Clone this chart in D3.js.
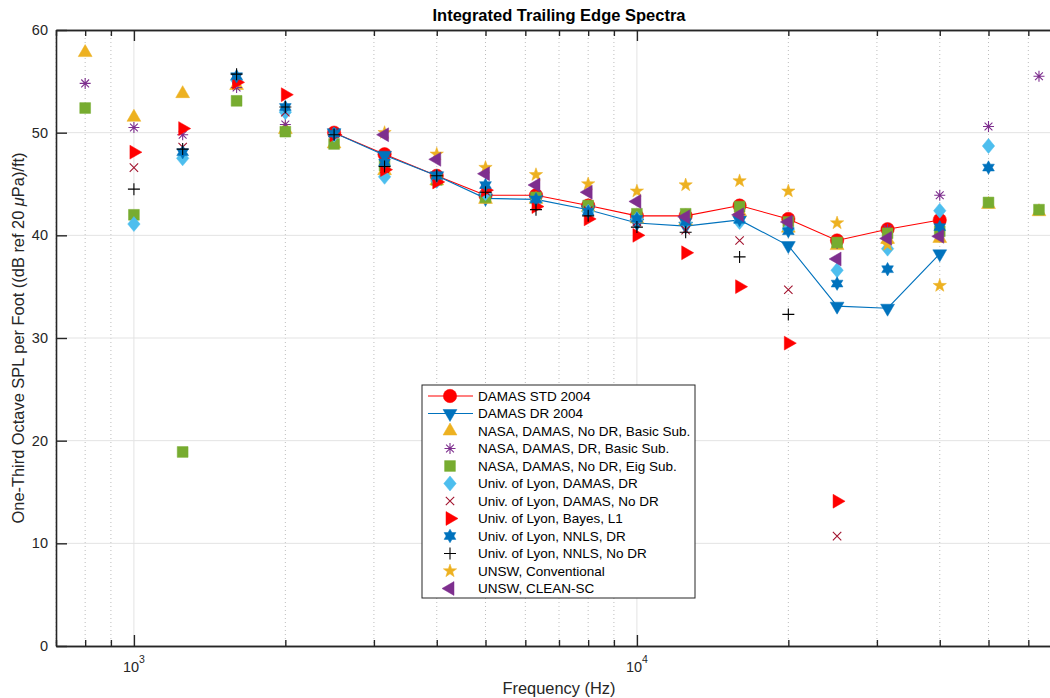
<!DOCTYPE html>
<html>
<head>
<meta charset="utf-8">
<script src="https://cdn.jsdelivr.net/npm/d3@7"></script>
<style>
body { margin: 0; background: #fff; }
text { font-family: "Liberation Sans", Arial, Helvetica, sans-serif; fill: #262626; }
</style>
</head>
<body>
<div id="chart"></div>
<script>
// third-octave band centre frequencies (Hz)
var freqs = [800, 1000, 1250, 1600, 2000, 2500, 3150, 4000, 5000, 6300, 8000, 10000, 12500, 16000, 20000, 25000, 31500, 40000, 50000, 63000];

// SPL values per band (null = no point)
var damasStd      = [null, null, null, null, null, 50.0, 47.9, 45.8, 43.9, 43.9, 42.9, 41.9, 41.9, 42.9, 41.6, 39.5, 40.6, 41.5, null, null];
var damasDr       = [null, null, null, null, null, 50.0, 47.8, 45.8, 43.6, 43.5, 42.5, 41.2, 40.9, 41.5, 39.0, 33.1, 32.9, 38.2, null, null];
var nasaNoDrBasic = [57.8, 51.5, 53.8, 54.6, 50.3, 48.9, 46.3, 45.3, 43.5, 43.5, 42.7, 41.6, 41.4, 42.3, 40.7, 39.0, 39.6, 39.7, 43.0, 42.3];
var nasaDrBasic   = [54.8, 50.5, 49.8, 54.4, 50.8, 50.0, 46.6, 45.5, 44.6, 43.4, 42.6, 41.4, 41.5, 42.0, 41.0, 39.2, 40.6, 43.9, 50.6, 55.5];
var nasaNoDrEig   = [52.4, 42.0, 18.9, 53.1, 50.1, 48.9, 46.8, 45.4, 43.7, 43.7, 42.9, 42.1, 42.1, 42.8, 41.3, 39.3, 40.2, 40.4, 43.2, 42.5];
var lyonDamasDr   = [null, 41.1, 47.5, 55.1, 52.0, 49.8, 45.7, 45.3, 44.1, 43.3, 42.3, 41.6, 41.2, 41.3, 40.6, 36.6, 38.7, 42.4, 48.7, null];
var lyonDamasNoDr = [null, 46.6, 48.6, 55.2, 52.0, 50.0, 46.5, 45.7, 44.3, 43.0, 42.4, 41.3, 40.5, 39.5, 34.7, 10.7, null, null, null, null];
var lyonBayes     = [null, 48.1, 50.4, 54.9, 53.7, 49.8, 46.4, 45.2, 44.4, 42.8, 41.6, 40.0, 38.3, 35.0, 29.5, 14.1, null, null, null, null];
var lyonNnlsDr    = [null, null, 48.1, 55.5, 52.5, 49.9, 47.1, 45.8, 44.9, 43.5, 42.3, 41.6, 41.3, 41.5, 40.4, 35.3, 36.7, 40.8, 46.6, null];
var lyonNnlsNoDr  = [null, 44.5, 48.4, 55.7, 52.5, 49.8, 46.7, 45.8, 44.2, 42.5, 41.9, 40.8, 40.3, 37.9, 32.3, null, null, null, null, null];
var unswConv      = [null, null, null, null, null, null, 50.0, 47.9, 46.6, 45.9, 45.0, 44.3, 44.9, 45.3, 44.3, 41.2, 39.1, 35.1, null, null];
var unswCleanSc   = [null, null, null, null, null, null, 49.8, 47.4, 46.0, 44.9, 44.2, 43.3, 41.8, 42.0, 41.3, 37.7, 39.7, 39.9, null, null];

var seriesNames = ["DAMAS STD 2004", "DAMAS DR 2004", "NASA, DAMAS, No DR, Basic Sub.", "NASA, DAMAS, DR, Basic Sub.",
    "NASA, DAMAS, No DR, Eig Sub.", "Univ. of Lyon, DAMAS, DR", "Univ. of Lyon, DAMAS, No DR", "Univ. of Lyon, Bayes, L1",
    "Univ. of Lyon, NNLS, DR", "Univ. of Lyon, NNLS, No DR", "UNSW, Conventional", "UNSW, CLEAN-SC"];

var yTicks = [0, 10, 20, 30, 40, 50, 60];
var xMajorTicks = [1000, 10000];
var xTickExps = ["3", "4"];

// marker / colour per series, in legend order
var series = [
    {values: damasStd,      marker: "circle",   color: "#ff0000", line: true},
    {values: damasDr,       marker: "triDown",  color: "#0072bd", line: true},
    {values: nasaNoDrBasic, marker: "triUp",    color: "#edb120"},
    {values: nasaDrBasic,   marker: "asterisk", color: "#7e2f8e"},
    {values: nasaNoDrEig,   marker: "square",   color: "#77ac30"},
    {values: lyonDamasDr,   marker: "diamond",  color: "#4dbeee"},
    {values: lyonDamasNoDr, marker: "cross",    color: "#a2142f"},
    {values: lyonBayes,     marker: "triRight", color: "#ff0000"},
    {values: lyonNnlsDr,    marker: "hexagram", color: "#0072bd"},
    {values: lyonNnlsNoDr,  marker: "plus",     color: "#000000"},
    {values: unswConv,      marker: "pentagram",color: "#edb120"},
    {values: unswCleanSc,   marker: "triLeft",  color: "#7e2f8e"}
];
series.forEach(function(s, i) { s.name = seriesNames[i]; });

var width = 1050, height = 698;
var plot = {left: 56, top: 30, right: 1062, bottom: 646};

var svg = d3.select("#chart").append("svg")
    .attr("width", width)
    .attr("height", height);

var x = d3.scaleLog().domain([700, 70000]).range([plot.left, plot.right]);
var y = d3.scaleLinear().domain([0, 60]).range([plot.bottom, plot.top]);

// star / polygon helpers
function starPath(n, R, r, rot) {
    var pts = [];
    for (var k = 0; k < 2 * n; k++) {
        var a = rot + k * Math.PI / n;
        var rad = (k % 2 === 0) ? R : r;
        pts.push([rad * Math.cos(a), rad * Math.sin(a)]);
    }
    return "M" + pts.map(function(p) { return p[0].toFixed(2) + "," + p[1].toFixed(2); }).join("L") + "Z";
}
function triPath(angleDeg) {
    var R = 8, pts = [];
    for (var k = 0; k < 3; k++) {
        var a = (angleDeg + k * 120) * Math.PI / 180;
        pts.push([R * Math.cos(a), R * Math.sin(a)]);
    }
    return "M" + pts.map(function(p) { return p[0].toFixed(2) + "," + p[1].toFixed(2); }).join("L") + "Z";
}

function markerPath(type) {
    switch (type) {
        case "circle":    return d3.symbol(d3.symbolCircle, Math.PI * 6.7 * 6.7)();
        case "square":    return "M-5.4,-5.4H5.4V5.4H-5.4Z";
        case "diamond":   return "M0,-7.5L6.2,0L0,7.5L-6.2,0Z";
        case "triUp":     return triPath(-90);
        case "triDown":   return triPath(90);
        case "triRight":  return triPath(0);
        case "triLeft":   return triPath(180);
        case "hexagram":  return starPath(6, 6.8, 3.9, -Math.PI / 2);
        case "pentagram": return starPath(5, 7.0, 2.8, -Math.PI / 2);
        case "asterisk":  return "M-5.5,0H5.5M0,-5.5V5.5M-3.9,-3.9L3.9,3.9M-3.9,3.9L3.9,-3.9";
        case "cross":     return "M-4.2,-4.2L4.2,4.2M-4.2,4.2L4.2,-4.2";
        case "plus":      return "M-6,0H6M0,-6V6";
    }
}
function isOpen(type) { return type === "asterisk" || type === "cross" || type === "plus"; }

/*** GRID */
var minorTicks = x.ticks().filter(function(d) { return xMajorTicks.indexOf(d) < 0; });

svg.append("g").selectAll("line")
    .data(minorTicks)
    .enter().append("line")
    .attr("x1", function(d) { return x(d); })
    .attr("x2", function(d) { return x(d); })
    .attr("y1", plot.top)
    .attr("y2", plot.bottom)
    .attr("stroke", "#bdbdbd")
    .attr("stroke-width", 1)
    .attr("stroke-dasharray", "1,3");

svg.append("g").selectAll("line")
    .data(xMajorTicks)
    .enter().append("line")
    .attr("x1", function(d) { return x(d); })
    .attr("x2", function(d) { return x(d); })
    .attr("y1", plot.top)
    .attr("y2", plot.bottom)
    .attr("stroke", "#e3e3e3");

svg.append("g").selectAll("line")
    .data(yTicks.slice(1, -1))
    .enter().append("line")
    .attr("x1", plot.left)
    .attr("x2", plot.right)
    .attr("y1", function(d) { return y(d); })
    .attr("y2", function(d) { return y(d); })
    .attr("stroke", "#e3e3e3");

/*** AXES */
var axisColor = "#262626";

// bottom + top axes, ticks pointing inward
svg.append("g")
    .attr("transform", "translate(0," + plot.bottom + ")")
    .call(d3.axisBottom(x).tickValues(minorTicks).tickSizeInner(-6).tickSizeOuter(0).tickFormat(""));
svg.append("g")
    .attr("transform", "translate(0," + plot.bottom + ")")
    .call(d3.axisBottom(x).tickValues(xMajorTicks).tickSizeInner(-11).tickSizeOuter(0).tickFormat(""));
svg.append("g")
    .attr("transform", "translate(0," + plot.top + ")")
    .call(d3.axisTop(x).tickValues(minorTicks).tickSizeInner(-6).tickSizeOuter(0).tickFormat(""));
svg.append("g")
    .attr("transform", "translate(0," + plot.top + ")")
    .call(d3.axisTop(x).tickValues(xMajorTicks).tickSizeInner(-11).tickSizeOuter(0).tickFormat(""));

// left axis
var yAxis = svg.append("g")
    .attr("transform", "translate(" + plot.left + ",0)")
    .call(d3.axisLeft(y).tickValues(yTicks).tickSizeInner(-11).tickSizeOuter(0).tickPadding(8));

svg.selectAll(".domain").attr("stroke", axisColor).attr("stroke-width", 1.6);
svg.selectAll(".tick line").attr("stroke", axisColor).attr("stroke-width", 1.4);
yAxis.selectAll("text")
    .attr("font-size", "14.5px")
    .attr("fill", "#262626")
    .style("font-family", "'Liberation Sans', Arial, sans-serif");

// 10^n labels
var xLab = svg.append("g").selectAll("text")
    .data(xMajorTicks)
    .enter().append("text")
    .attr("x", function(d) { return x(d); })
    .attr("y", 672)
    .attr("text-anchor", "middle")
    .attr("font-size", "14.5px");
xLab.append("tspan").text("10");
xLab.append("tspan")
    .attr("dy", -9)
    .attr("font-size", "10.5px")
    .text(function(d, i) { return xTickExps[i]; });

/*** DATA */
var line = d3.line()
    .defined(function(d) { return d.v !== null; })
    .x(function(d) { return x(d.f); })
    .y(function(d) { return y(d.v); });

series.forEach(function(s) {
    var pts = freqs.map(function(f, i) { return {f: f, v: s.values[i]}; });
    var g = svg.append("g");
    if (s.line) {
        g.append("path")
            .datum(pts)
            .attr("d", line)
            .attr("fill", "none")
            .attr("stroke", s.color)
            .attr("stroke-width", 1.1);
    }
    g.selectAll(".mk")
        .data(pts.filter(function(d) { return d.v !== null; }))
        .enter().append("path")
        .attr("class", "mk")
        .attr("transform", function(d) { return "translate(" + x(d.f) + "," + y(d.v) + ")"; })
        .attr("d", markerPath(s.marker))
        .attr("fill", isOpen(s.marker) ? "none" : s.color)
        .attr("stroke", s.color)
        .attr("stroke-width", isOpen(s.marker) ? 1.1 : 0.5);
});

/*** TITLE + LABELS */
svg.append("text")
    .attr("x", (plot.left + plot.right) / 2)
    .attr("y", 21)
    .attr("text-anchor", "middle")
    .attr("font-size", "16.5px")
    .attr("font-weight", "bold")
    .style("fill", "#000")
    .text("Integrated Trailing Edge Spectra");

svg.append("text")
    .attr("x", (plot.left + plot.right) / 2)
    .attr("y", 694)
    .attr("text-anchor", "middle")
    .attr("font-size", "16.4px")
    .text("Frequency (Hz)");

var yl = svg.append("text")
    .attr("transform", "translate(24," + ((plot.top + plot.bottom) / 2) + ") rotate(-90)")
    .attr("text-anchor", "middle")
    .attr("font-size", "16.4px");
yl.append("tspan").text("One-Third Octave SPL per Foot ((dB ref 20 ");
yl.append("tspan").attr("font-style", "italic").text("\u03bc");
yl.append("tspan").text("Pa)/ft)");

/*** LEGEND */
var legend = svg.append("g").attr("transform", "translate(422,385)");
legend.append("rect")
    .attr("width", 273)
    .attr("height", 213)
    .attr("fill", "#fff")
    .attr("stroke", axisColor)
    .attr("stroke-width", 1);

var rows = legend.selectAll(".row")
    .data(series)
    .enter().append("g")
    .attr("class", "row")
    .attr("transform", function(d, i) { return "translate(0," + (11 + i * 17.5) + ")"; });

rows.filter(function(d) { return d.line; })
    .append("line")
    .attr("x1", 6).attr("x2", 51)
    .attr("stroke", function(d) { return d.color; })
    .attr("stroke-width", 1.1);

rows.append("path")
    .attr("transform", "translate(28,0)")
    .attr("d", function(d) { return markerPath(d.marker); })
    .attr("fill", function(d) { return isOpen(d.marker) ? "none" : d.color; })
    .attr("stroke", function(d) { return d.color; })
    .attr("stroke-width", function(d) { return isOpen(d.marker) ? 1.1 : 0.5; });

rows.append("text")
    .attr("x", 56)
    .attr("dy", "0.35em")
    .attr("font-size", "13.5px")
    .style("fill", "#000")
    .text(function(d) { return d.name; });
</script>
</body>
</html>
